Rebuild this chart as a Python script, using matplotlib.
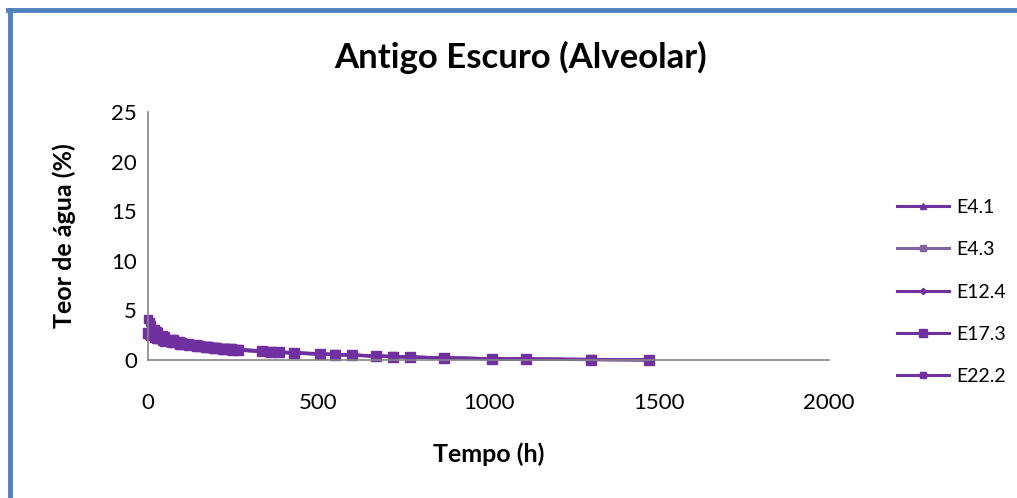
import matplotlib.pyplot as plt
from matplotlib.lines import Line2D

plt.rcParams["font.family"] = ["Lato", "DejaVu Sans"]

# tempo (h) comum as cinco series
tempo = [0, 5, 10, 20, 25, 30, 45, 50, 70, 75, 95, 100, 120, 145, 150, 170,
         175, 195, 200, 220, 225, 245, 250, 265, 335, 360, 385, 430, 505, 550,
         600, 670, 720, 770, 870, 1010, 1110, 1300, 1470]

e4_1 = [4.0, 3.7, 3.4, 3.1, 2.9, 2.75, 2.45, 2.35, 2.1, 2.05, 1.88, 1.82, 1.7,
        1.57, 1.52, 1.44, 1.41, 1.33, 1.31, 1.24, 1.21, 1.14, 1.12, 1.06, 0.9,
        0.85, 0.8, 0.72, 0.62, 0.56, 0.5, 0.4, 0.35, 0.3, 0.21, 0.13, 0.09, 0.05, 0.03]
e4_3 = [2.6, 2.5, 2.4, 2.25, 2.2, 2.12, 1.97, 1.92, 1.78, 1.74, 1.63, 1.6, 1.5,
        1.4, 1.37, 1.3, 1.28, 1.21, 1.19, 1.13, 1.11, 1.05, 1.03, 0.98, 0.84,
        0.8, 0.75, 0.68, 0.58, 0.53, 0.47, 0.38, 0.33, 0.28, 0.2, 0.12, 0.08, 0.04, 0.02]
e12_4 = [3.9, 3.6, 3.3, 3.0, 2.85, 2.7, 2.4, 2.3, 2.05, 2.0, 1.84, 1.79, 1.67,
         1.54, 1.5, 1.41, 1.38, 1.3, 1.28, 1.21, 1.18, 1.11, 1.09, 1.03, 0.87,
         0.83, 0.78, 0.7, 0.6, 0.54, 0.48, 0.39, 0.34, 0.29, 0.2, 0.12, 0.08, 0.04, 0.02]
e17_3 = [2.7, 2.58, 2.47, 2.32, 2.26, 2.18, 2.02, 1.96, 1.82, 1.78, 1.66, 1.62,
         1.52, 1.42, 1.39, 1.32, 1.3, 1.23, 1.21, 1.15, 1.13, 1.07, 1.05, 1.0,
         0.86, 0.82, 0.77, 0.7, 0.6, 0.55, 0.49, 0.4, 0.34, 0.29, 0.21, 0.13, 0.09, 0.05, 0.03]
e22_2 = [4.1, 3.8, 3.5, 3.15, 2.95, 2.8, 2.5, 2.4, 2.15, 2.08, 1.9, 1.85, 1.72,
         1.59, 1.55, 1.46, 1.43, 1.35, 1.33, 1.26, 1.23, 1.16, 1.14, 1.08, 0.92,
         0.87, 0.82, 0.74, 0.64, 0.57, 0.51, 0.41, 0.36, 0.31, 0.22, 0.14, 0.1, 0.06, 0.03]

series = ["E4.1", "E4.3", "E12.4", "E17.3", "E22.2"]
valores = [e4_1, e4_3, e12_4, e17_3, e22_2]
marcadores = ["^", "s", "D", "s", "s"]
tamanhos = [5, 5, 4, 7, 6]
cores = ["#7030A0", "#8064A2", "#7030A0", "#7030A0", "#7030A0"]

fig = plt.figure(figsize=(10.17, 4.98), dpi=100)
ax = fig.add_axes([148 / 1017, 1 - 360 / 498, (829 - 148) / 1017, (360 - 112) / 498])

for nome, y, m, ms, c in zip(series, valores, marcadores, tamanhos, cores):
    ax.plot(tempo, y, color=c, lw=2.2, marker=m, ms=ms, label=nome, clip_on=False)

ax.set_xlim(0, 2000)
ax.set_ylim(0, 25)
ax.set_xticks([0, 500, 1000, 1500, 2000])
ax.set_yticks([0, 5, 10, 15, 20, 25])
ax.spines["top"].set_visible(False)
ax.spines["right"].set_visible(False)
for s in ["left", "bottom"]:
    ax.spines[s].set_color("#868686")
    ax.spines[s].set_linewidth(1.2)
ax.tick_params(length=0, labelsize=16, pad=8)
ax.tick_params(axis="x", pad=24)

ax.set_xlabel("Tempo (h)", fontsize=18, fontweight="bold", labelpad=21)
ax.set_ylabel("Teor de água (%)", fontsize=18, fontweight="bold", labelpad=25)
fig.text(520 / 1017, 1 - 57 / 498, "Antigo Escuro (Alveolar)", fontsize=25,
         fontweight="bold", ha="center", va="center")

ax.legend(loc="center left", bbox_to_anchor=(0.882, 1 - 292 / 498), bbox_transform=fig.transFigure,
          frameon=False, fontsize=14, labelspacing=1.3, handlelength=2.7,
          handletextpad=0.35, markerscale=0.8, borderpad=0, borderaxespad=0)

# moldura azul (so a esquerda e o topo aparecem)
fig.add_artist(Line2D([10 / 1017, 10 / 1017], [0, 1 - 10 / 498],
                      transform=fig.transFigure, color="#4F81BD", lw=3.5))
fig.add_artist(Line2D([8 / 1017, 1], [1 - 10.5 / 498, 1 - 10.5 / 498],
                      transform=fig.transFigure, color="#4F81BD", lw=3.5))

plt.savefig("out.png", dpi=100)
